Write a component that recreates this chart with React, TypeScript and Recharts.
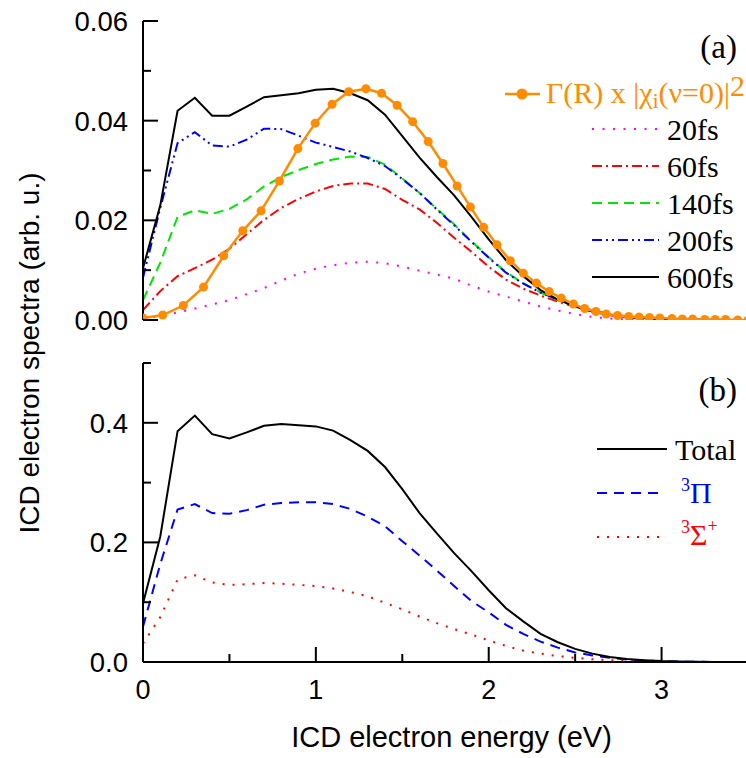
import React from 'react';
import { LineChart, Line, XAxis, YAxis, Legend } from 'recharts';

const SANS = '"Liberation Sans", Arial, Helvetica, sans-serif';
const SERIF = '"Liberation Serif", "Times New Roman", Times, serif';
const ORANGE = '#ff8c00';

// ---------- data ----------
const energy = [0, 0.1, 0.2, 0.3, 0.4, 0.5, 0.6, 0.7, 0.8, 0.9, 1.0, 1.1, 1.2, 1.3, 1.4, 1.5, 1.6, 1.7, 1.8, 1.9, 2.0, 2.1, 2.2, 2.3, 2.4, 2.5, 2.6, 2.7, 2.8, 2.9, 3.0, 3.1, 3.2, 3.3, 3.4, 3.5];

// panel (a)
const s20fs = [0.0002, 0.0008, 0.0015, 0.0023, 0.0031, 0.004, 0.0052, 0.0064, 0.0079, 0.0093, 0.0103, 0.011, 0.0115, 0.0117, 0.0114, 0.0107, 0.0099, 0.0091, 0.0083, 0.0069, 0.0057, 0.0047, 0.0037, 0.0027, 0.0019, 0.0012, 0.0006, 0.0003, 0.0001, 0, 0, 0, 0, 0, 0, 0];
const s60fs = [0.002, 0.0058, 0.0088, 0.0104, 0.0121, 0.0143, 0.0172, 0.0201, 0.0225, 0.0243, 0.0258, 0.0269, 0.0274, 0.0274, 0.0263, 0.0241, 0.0222, 0.0195, 0.0165, 0.0137, 0.0107, 0.0081, 0.0063, 0.0049, 0.0037, 0.0026, 0.0017, 0.001, 0.0006, 0.0003, 0.0001, 0, 0, 0, 0, 0];
const s140fs = [0.004, 0.0115, 0.0207, 0.022, 0.0213, 0.0223, 0.0242, 0.0268, 0.0287, 0.0301, 0.0313, 0.0322, 0.0328, 0.0327, 0.0312, 0.0284, 0.0255, 0.0223, 0.0192, 0.0158, 0.0126, 0.0096, 0.0074, 0.0055, 0.004, 0.0028, 0.0018, 0.0011, 0.0007, 0.0004, 0.0002, 0.0001, 0, 0, 0, 0];
const s200fs = [0.0085, 0.0225, 0.0355, 0.0377, 0.035, 0.0348, 0.0362, 0.0384, 0.0383, 0.037, 0.0356, 0.0347, 0.0338, 0.0325, 0.0309, 0.0283, 0.0255, 0.0222, 0.019, 0.0157, 0.0125, 0.0095, 0.0073, 0.0055, 0.0041, 0.0029, 0.0019, 0.0012, 0.0007, 0.0004, 0.0002, 0.0001, 0, 0, 0, 0];
const s600fs = [0.0104, 0.023, 0.042, 0.0446, 0.041, 0.041, 0.0428, 0.0447, 0.0451, 0.0455, 0.0462, 0.0464, 0.0455, 0.0441, 0.0412, 0.0369, 0.0326, 0.0287, 0.025, 0.0207, 0.0162, 0.012, 0.0088, 0.006, 0.0041, 0.0027, 0.0017, 0.001, 0.0006, 0.0004, 0.0002, 0.0001, 0.0001, 0, 0, 0];

const gammaE = [0, 0.114, 0.233, 0.35, 0.467, 0.577, 0.683, 0.789, 0.896, 0.996, 1.094, 1.19, 1.29, 1.38, 1.47, 1.56, 1.65, 1.735, 1.817, 1.894, 1.971, 2.048, 2.125, 2.2, 2.276, 2.35, 2.42, 2.49, 2.555, 2.62, 2.68, 2.745, 2.81, 2.87, 2.93, 2.99, 3.06, 3.12, 3.18, 3.25, 3.31, 3.37, 3.44, 3.5];
const gammaV = [0.0004, 0.001, 0.0029, 0.0066, 0.0129, 0.0179, 0.0219, 0.0279, 0.0344, 0.0395, 0.0433, 0.0458, 0.0464, 0.0455, 0.0431, 0.0398, 0.0358, 0.0314, 0.0269, 0.0227, 0.0186, 0.0151, 0.0119, 0.0094, 0.0074, 0.0057, 0.0044, 0.0032, 0.0023, 0.0017, 0.0012, 0.0009, 0.0007, 0.0006, 0.0005, 0.0004, 0.0003, 0.0002, 0.0002, 0.0001, 0.0001, 0.0001, 0, 0];

// panel (b)
const total = [0.098, 0.21, 0.386, 0.412, 0.381, 0.374, 0.384, 0.395, 0.398, 0.396, 0.394, 0.387, 0.371, 0.353, 0.326, 0.289, 0.249, 0.215, 0.182, 0.152, 0.12, 0.09, 0.068, 0.047, 0.033, 0.022, 0.014, 0.0085, 0.005, 0.003, 0.0015, 0.0008, 0.0004, 0.0002, 0.0001, 0];
const pi3 = [0.059, 0.164, 0.255, 0.264, 0.249, 0.248, 0.254, 0.263, 0.266, 0.267, 0.267, 0.264, 0.256, 0.243, 0.227, 0.202, 0.178, 0.153, 0.127, 0.102, 0.083, 0.062, 0.047, 0.034, 0.024, 0.016, 0.011, 0.007, 0.004, 0.0025, 0.0012, 0.0006, 0.0003, 0.0001, 0, 0];
const sigma3 = [0.031, 0.075, 0.138, 0.145, 0.133, 0.129, 0.13, 0.132, 0.131, 0.129, 0.127, 0.123, 0.117, 0.11, 0.099, 0.088, 0.076, 0.065, 0.055, 0.046, 0.036, 0.027, 0.019, 0.014, 0.01, 0.007, 0.0045, 0.003, 0.0018, 0.001, 0.0005, 0.0002, 0.0001, 0, 0, 0];

// ticks
const xTicks = [0, 0.5, 1, 1.5, 2, 2.5, 3, 3.5];
const xLabels = [0, 1, 2, 3];
const aTicks = [0, 0.01, 0.02, 0.03, 0.04, 0.05, 0.06];
const aLabels = [0, 0.02, 0.04, 0.06];
const bTicks = [0, 0.1, 0.2, 0.3, 0.4, 0.5];
const bLabels = [0, 0.2, 0.4];

// tables for the library
const rowsA = energy.map((e, i) => ({ e, s20: s20fs[i], s60: s60fs[i], s140: s140fs[i], s200: s200fs[i], s600: s600fs[i] }));
const rowsGamma = gammaE.map((e, i) => ({ e, g: gammaV[i] }));
const rowsB = energy.map((e, i) => ({ e, total: total[i], pi: pi3[i], sigma: sigma3[i] }));

const has = (arr: number[], v: number) => arr.some((a) => Math.abs(a - v) < 1e-9);

const bottomTick = (labels: number[], showLabels: boolean) => (p: any) => {
  const v = p.payload.value;
  const major = has(labels, v);
  return (
    <g>
      <line x1={p.x} x2={p.x} y1={p.y} y2={p.y - (major ? 15 : 8)} stroke="#000" strokeWidth={2} />
      {showLabels && major ? (
        <text x={p.x} y={p.y + 27} dy="0.36em" textAnchor="middle" fontFamily={SANS} fontSize={27} fill="#000">
          {String(v)}
        </text>
      ) : null}
    </g>
  );
};

const topTick = (labels: number[]) => (p: any) => {
  const v = p.payload.value;
  const major = has(labels, v);
  return <line x1={p.x} x2={p.x} y1={p.y} y2={p.y + (major ? 5 : 3)} stroke="#000" strokeWidth={2} />;
};

const leftTick = (labels: number[], digits: number) => (p: any) => {
  const v = p.payload.value;
  const major = has(labels, v);
  return (
    <g>
      <line x1={p.x} x2={p.x + (major ? 15 : 8)} y1={p.y} y2={p.y} stroke="#000" strokeWidth={2} />
      {major ? (
        <text x={p.x - 15} y={p.y} dy="0.36em" textAnchor="end" fontFamily={SANS} fontSize={27.5} fill="#000">
          {v.toFixed(digits)}
        </text>
      ) : null}
    </g>
  );
};

const legendRowsA = [
  { name: '20fs', color: '#ff00ff', dash: '2 8.5', y: 129 },
  { name: '60fs', color: '#ff0000', dash: '10 4 2 4', y: 166 },
  { name: '140fs', color: '#00e600', dash: '10 6', y: 203 },
  { name: '200fs', color: '#0000ff', dash: '10 4 2 4 2 4', y: 240 },
  { name: '600fs', color: '#000000', dash: undefined as string | undefined, y: 277 },
];

function LegendA() {
  return (
    <svg width={746} height={340} style={{ position: 'absolute', left: 0, top: 0 }}>
      <text x={737} y={58} textAnchor="end" fontFamily={SERIF} fontSize={33} fill="#000">(a)</text>
      <line x1={505} x2={540} y1={94} y2={94} stroke={ORANGE} strokeWidth={2.5} />
      <circle cx={522} cy={94} r={5.5} fill={ORANGE} />
      <text x={546} y={103} fontFamily={SERIF} fontSize={30} fill={ORANGE}>
        Γ(R) x |χ<tspan fontSize={21} dy={5}>i</tspan>
        <tspan dy={-5}>(ν=0)|</tspan>
        <tspan dy={-7}>2</tspan>
      </text>
      {legendRowsA.map((r) => (
        <g key={r.name}>
          <line x1={592} x2={659} y1={r.y} y2={r.y} stroke={r.color} strokeWidth={2} strokeDasharray={r.dash} />
          <text x={667} y={r.y + 11} fontFamily={SERIF} fontSize={30} fill="#000">{r.name}</text>
        </g>
      ))}
    </svg>
  );
}

function LegendB() {
  // coordinates relative to chart (b), which starts 340px down the page
  return (
    <svg width={746} height={418} style={{ position: 'absolute', left: 0, top: 0 }}>
      <text x={737} y={61} textAnchor="end" fontFamily={SERIF} fontSize={33} fill="#000">(b)</text>
      <line x1={597} x2={667} y1={109} y2={109} stroke="#000" strokeWidth={2} />
      <text x={675} y={120} fontFamily={SERIF} fontSize={30} fill="#000">Total</text>
      <line x1={597} x2={660} y1={153} y2={153} stroke="#0000ff" strokeWidth={2} strokeDasharray="10 7" />
      <text x={681} y={163} fontFamily={SERIF} fontSize={30} fill="#0000ff">
        <tspan fontSize={18} dy={-12}>3</tspan>
        <tspan dy={12}>Π</tspan>
      </text>
      <line x1={597} x2={662} y1={197} y2={197} stroke="#ff0000" strokeWidth={2} strokeDasharray="2 8" />
      <text x={681} y={205} fontFamily={SERIF} fontSize={30} fill="#ff0000">
        <tspan fontSize={18} dy={-12}>3</tspan>
        <tspan dy={12}>Σ</tspan>
        <tspan fontSize={18} dy={-13}>+</tspan>
      </text>
    </svg>
  );
}

const axisLine = { stroke: '#000', strokeWidth: 2 };

export default function App() {
  return (
    <div style={{ position: 'absolute', left: 0, top: 0, width: 746, height: 758, overflow: 'hidden', background: '#fff' }}>
      <div style={{ position: 'absolute', left: 0, top: 0 }}>
        <LineChart width={760} height={340} margin={{ top: 21, right: 12, bottom: 20, left: 0 }}>
          <XAxis xAxisId="b" type="number" dataKey="e" domain={[0, 3.5]} ticks={xTicks} interval={0} allowDataOverflow height={0} tickSize={0} tickMargin={0} tickLine={false} axisLine={axisLine} tick={bottomTick(xLabels, false)} />
          <XAxis xAxisId="t" orientation="top" type="number" dataKey="e" domain={[0, 3.5]} ticks={xTicks} interval={0} allowDataOverflow height={0} tickSize={0} tickMargin={0} tickLine={false} axisLine={axisLine} tick={topTick(xLabels)} />
          <YAxis type="number" domain={[0, 0.06]} ticks={aTicks} interval={0} allowDataOverflow width={143} tickSize={0} tickMargin={0} tickLine={false} axisLine={axisLine} tick={leftTick(aLabels, 2)} />
          <Line xAxisId="b" data={rowsA} dataKey="s20" type="linear" stroke="#ff00ff" strokeWidth={2} strokeDasharray="2 8.5" dot={false} isAnimationActive={false} />
          <Line xAxisId="b" data={rowsA} dataKey="s60" type="linear" stroke="#ff0000" strokeWidth={2} strokeDasharray="10 4 2 4" dot={false} isAnimationActive={false} />
          <Line xAxisId="b" data={rowsA} dataKey="s140" type="linear" stroke="#00e600" strokeWidth={2} strokeDasharray="10 6" dot={false} isAnimationActive={false} />
          <Line xAxisId="b" data={rowsA} dataKey="s200" type="linear" stroke="#0000ff" strokeWidth={2} strokeDasharray="10 4 2 4 2 4" dot={false} isAnimationActive={false} />
          <Line xAxisId="b" data={rowsA} dataKey="s600" type="linear" stroke="#000000" strokeWidth={2} dot={false} isAnimationActive={false} />
          <Line xAxisId="b" data={rowsGamma} dataKey="g" type="linear" stroke={ORANGE} strokeWidth={2.5} dot={{ r: 4.5, fill: ORANGE, stroke: ORANGE, strokeWidth: 0 }} isAnimationActive={false} />
          <Legend layout="vertical" align="center" verticalAlign="middle" wrapperStyle={{ left: 0, top: 0, width: 746, height: 340 }} content={() => <LegendA />} />
        </LineChart>
      </div>
      <div style={{ position: 'absolute', left: 0, top: 340 }}>
        <LineChart width={760} height={418} margin={{ top: 23, right: 12, bottom: 0, left: 0 }}>
          <XAxis
            xAxisId="b"
            type="number"
            dataKey="e"
            domain={[0, 3.5]}
            ticks={xTicks}
            interval={0}
            allowDataOverflow
            height={96}
            tickSize={0}
            tickMargin={0}
            tickLine={false}
            axisLine={axisLine}
            tick={bottomTick(xLabels, true)}
            label={{
              content: (p: any) => {
                const vb = p.viewBox || { x: 143, y: 322, width: 605, height: 96 };
                return (
                  <text x={vb.x + vb.width / 2 + 6} y={vb.y + 85} textAnchor="middle" fontFamily={SANS} fontSize={29} fill="#000">
                    ICD electron energy (eV)
                  </text>
                );
              },
            }}
          />
          <XAxis xAxisId="t" orientation="top" type="number" dataKey="e" domain={[0, 3.5]} ticks={xTicks} interval={0} allowDataOverflow height={0} tickSize={0} tickMargin={0} tickLine={false} axisLine={axisLine} tick={topTick(xLabels)} />
          <YAxis type="number" domain={[0, 0.5]} ticks={bTicks} interval={0} allowDataOverflow width={143} tickSize={0} tickMargin={0} tickLine={false} axisLine={axisLine} tick={leftTick(bLabels, 1)} />
          <Line xAxisId="b" data={rowsB} dataKey="sigma" type="linear" stroke="#ff0000" strokeWidth={2} strokeDasharray="2 8" dot={false} isAnimationActive={false} />
          <Line xAxisId="b" data={rowsB} dataKey="pi" type="linear" stroke="#0000ff" strokeWidth={2} strokeDasharray="10 7" dot={false} isAnimationActive={false} />
          <Line xAxisId="b" data={rowsB} dataKey="total" type="linear" stroke="#000000" strokeWidth={2} dot={false} isAnimationActive={false} />
          <Legend layout="vertical" align="center" verticalAlign="middle" wrapperStyle={{ left: 0, top: 0, width: 746, height: 418 }} content={() => <LegendB />} />
        </LineChart>
      </div>
      <div
        style={{
          position: 'absolute',
          left: 30,
          top: 353,
          transform: 'translate(-50%, -50%) rotate(-90deg)',
          whiteSpace: 'nowrap',
          fontFamily: SANS,
          fontSize: 28,
          color: '#000',
          lineHeight: 1,
        }}
      >
        ICD electron spectra (arb. u.)
      </div>
    </div>
  );
}
